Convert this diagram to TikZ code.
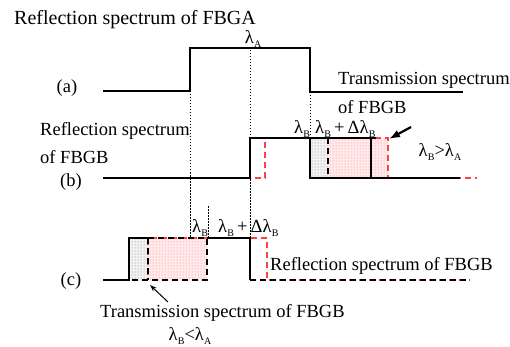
\documentclass[tikz,border=0pt]{standalone}
\usepackage{fontspec}
\setmainfont{Liberation Serif}
\newfontfamily\tfont{Liberation Serif}
\usetikzlibrary{patterns,arrows.meta}
\newcommand\lsub[1]{λ\kern0.3pt\raisebox{-0.45ex}{\fontsize{10}{10}\selectfont #1}}
\tikzset{
  lbl/.style={inner sep=0pt,font=\tfont\fontsize{18.5}{20}\selectfont},
  solidline/.style={line width=1.5pt,black},
  bdash/.style={line width=1.5pt,black,dash pattern=on 6pt off 4pt},
  rdash/.style={line width=1.3pt,red!75!white,dash pattern=on 6pt off 4pt,dash phase=5pt},
  vdot/.style={line width=1pt,black,dash pattern=on 1.5pt off 1.5pt},
  grayfill/.style={pattern=dots,pattern color=gray},
  pinkfill/.style={pattern=dots,pattern color=red!55},
}
\begin{document}
\begin{tikzpicture}[x=1pt,y=-1pt]
\useasboundingbox (0,0) rectangle (510,347);
\fill[white] (0,0) rectangle (510,347);

% ---------- coordinates ----------
\coordinate (a0) at (103,91);
\coordinate (a1) at (190,91);
\coordinate (a2) at (190,48);
\coordinate (a3) at (310,48);
\coordinate (a4) at (310,92);
\coordinate (a5) at (463,92);

% ---------- fills ----------
\fill[gray!10] (310,138) rectangle (328,178);
\fill[grayfill] (310,138) rectangle (328,178);
\fill[red!8] (328,138) rectangle (388,178);
\fill[pinkfill] (328,138) rectangle (388,178);
\fill[gray!10] (129,238) rectangle (148,280);
\fill[grayfill] (129,238) rectangle (148,280);
\fill[red!8] (148,238) rectangle (207,280);
\fill[pinkfill] (148,238) rectangle (207,280);

% ---------- dotted guides ----------
\draw[vdot] (190,91) -- (190,237);
\draw[vdot] (250,47) -- (250,237);
\draw[vdot] (310,92) -- (310,138);
\draw[vdot] (208,206) -- (208,237);

% ---------- (a) ----------
\draw[solidline] (a0) -- (a1) -- (a2) -- (a3) -- (a4) -- (a5);

% ---------- (b) ----------
\draw[rdash] (250,178) -- (265,178) -- (265,138) -- (388,138) -- (388,178) -- (477,178);
\draw[solidline] (103,178) -- (250,178) -- (250,138) -- (376,138);
\draw[solidline] (310,138) -- (310,178) -- (460,178);
\draw[solidline] (371,138) -- (371,178);
\draw[bdash] (328,138) -- (328,178);

% ---------- (c) ----------
\draw[rdash] (148,280) -- (148,238) -- (267,238) -- (267,280) -- (470,280);
\draw[solidline] (103,280) -- (129,280) -- (129,238) -- (148,238);
\draw[solidline] (207,238) -- (250,238) -- (250,280);
\draw[bdash] (148,238) -- (207,238) -- (207,280) -- (129,280);
\draw[bdash] (148,238) -- (148,280);
\draw[bdash] (250,280) -- (470,280);

% ---------- texts ----------
\node[lbl,anchor=west,font=\tfont\fontsize{20}{22}\selectfont] (title) at (14,20) {Reflection spectrum of FBGA};
\node[lbl] (lamA) at (253,39) {\lsub{A}};
\node[lbl] (la) at (67,88) {(a)};
\node[lbl,anchor=west] (tr1) at (338,80) {Transmission spectrum};
\node[lbl,anchor=west] (tr2) at (338,107) {of FBGB};
\node[lbl,anchor=west] (rb1) at (40,131) {Reflection spectrum};
\node[lbl,anchor=west] (rb2) at (40,157) {of FBGB};
\node[lbl] (lb) at (71,182) {(b)};
\node[lbl] (lbB) at (302,129) {\lsub{B}};
\node[lbl,anchor=west] (lbBd) at (315,129) {\lsub{B}\,+\,Δ\lsub{B}};
\node[lbl] (gtr) at (440,152) {\lsub{B}>\lsub{A}};
\node[lbl] (lcB) at (200,228) {\lsub{B}};
\node[lbl,anchor=west] (lcBd) at (218,228) {\lsub{B}\,+\,Δ\lsub{B}};
\node[lbl,anchor=west] (rc) at (270,266) {Reflection spectrum of FBGB};
\node[lbl] (lc) at (71,281) {(c)};
\node[lbl,anchor=west] (tc) at (100,313) {Transmission spectrum of FBGB};
\node[lbl] (lss) at (190,336) {\lsub{B}<\lsub{A}};

% ---------- arrows ----------
\coordinate (arbT) at (411,127);
\coordinate (arbH) at (389,139);
\draw[line width=2.2pt,-{Latex[length=11pt,width=8pt]}] (arbT) -- (arbH);
\coordinate (arcT) at (168,302);
\coordinate (arcH) at (150,285);
\draw[line width=1pt,-{Stealth[length=7pt,width=5pt]}] (arcT) -- (arcH);
\end{tikzpicture}
\end{document}
